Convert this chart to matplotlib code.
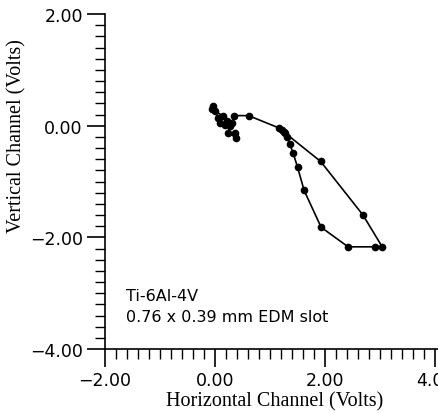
import matplotlib
matplotlib.use("Agg")
import matplotlib.pyplot as plt
from matplotlib.ticker import MultipleLocator

# ------------------------------
# Data (volts)
# ------------------------------
horizontal = [0.36, 0.39, 0.24, 0.27, 0.18, 0.09, 0.05, 0.00, -0.04, -0.06,
              0.15, 0.22, 0.30, 0.35, 0.61, 1.16, 1.22, 1.27, 1.31, 1.36,
              1.42, 1.50, 1.62, 1.93, 2.42, 2.90, 3.04, 2.69, 1.92, 1.26]
vertical = [-0.13, -0.22, -0.13, -0.01, 0.02, 0.05, 0.14, 0.26, 0.35, 0.30,
            0.17, 0.08, 0.05, 0.18, 0.18, -0.04, -0.08, -0.13, -0.20, -0.33,
            -0.49, -0.74, -1.16, -1.82, -2.17, -2.17, -2.17, -1.60, -0.64, -0.12]

note_lines = ["Ti-6Al-4V", "0.76 x 0.39 mm EDM slot"]


def volts(v, pos):
    # minus sign as in the source
    return ("\u2212%.2f" % -v) if v < 0 else "%.2f" % v


fig = plt.figure(figsize=(4.39, 4.14), dpi=100)
ax = fig.add_axes([105 / 439, 64 / 414, 341 / 439, 335 / 414])

ax.plot(horizontal, vertical, color="black", linewidth=1.2,
        marker="o", markersize=4.5)

ax.set_xlim(-2.0, 4.2)
ax.set_ylim(-4.0, 2.0)

ax.xaxis.set_major_locator(MultipleLocator(2.0))
ax.xaxis.set_minor_locator(MultipleLocator(0.2))
ax.yaxis.set_major_locator(MultipleLocator(2.0))
ax.yaxis.set_minor_locator(MultipleLocator(0.2))
ax.xaxis.set_major_formatter(plt.FuncFormatter(volts))
ax.yaxis.set_major_formatter(plt.FuncFormatter(volts))

ax.tick_params(which="major", direction="out", length=13, width=1.2,
               labelsize=12.5, pad=3)
ax.tick_params(which="minor", direction="out", length=7, width=1.0)
for lab in ax.get_xticklabels() + ax.get_yticklabels():
    lab.set_family("DejaVu Sans")

ax.spines["top"].set_visible(False)
ax.spines["right"].set_visible(False)
ax.spines["left"].set_linewidth(1.2)
ax.spines["bottom"].set_linewidth(1.2)

ax.text(-1.62, -3.04, note_lines[0], fontsize=11.5, family="DejaVu Sans",
        va="center", ha="left")
ax.text(-1.62, -3.41, note_lines[1], fontsize=11.5, family="DejaVu Sans",
        va="center", ha="left")

fig.text(275 / 439, 1 - 402 / 414, "Horizontal Channel (Volts)",
         family="Liberation Serif", fontsize=14.5, ha="center", va="center")
fig.text(17 / 439, 1 - 136 / 414, "Vertical Channel (Volts)",
         family="Liberation Serif", fontsize=14.5, ha="center", va="center",
         rotation=90)

fig.savefig("out.png", dpi=100)
